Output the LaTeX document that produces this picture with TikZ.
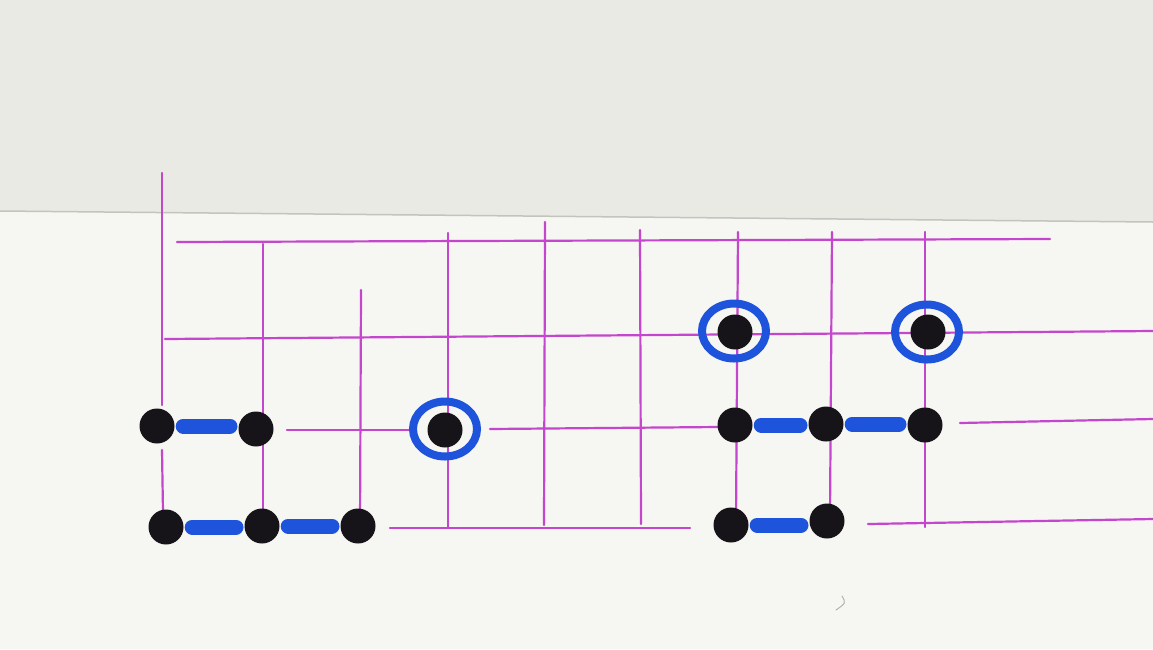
\documentclass[tikz,border=0pt]{standalone}
\usetikzlibrary{shapes.geometric}
\definecolor{paperTop}{RGB}{234,234,229}
\definecolor{paperLow}{RGB}{246,246,242}
\definecolor{edgeGray}{RGB}{196,196,190}
\definecolor{penMag}{RGB}{196,70,204}
\definecolor{penBlue}{RGB}{30,84,220}
\definecolor{inkBlack}{RGB}{22,20,24}
\tikzset{
  gridline/.style={draw=penMag, line width=2.2pt, line cap=round},
  dot/.style={circle, fill=inkBlack, minimum size=35pt, inner sep=0pt},
  ring/.style={ellipse, draw=penBlue, line width=8pt, minimum width=64pt, minimum height=55pt, inner sep=0pt},
  bar/.style={draw=penBlue, line width=15pt, line cap=round, shorten <=8.5pt, shorten >=26pt}
}
\begin{document}
\begin{tikzpicture}[x=1pt,y=-1pt]
\useasboundingbox (0,0) rectangle (1153,649);
% paper
\fill[paperLow] (0,0) rectangle (1153,649);
\fill[paperTop] (0,0) -- (1153,0) -- (1153,222) -- (0,211) -- cycle;
\draw[edgeGray, line width=1.5pt] (0,211) -- (1153,222);
% horizontal lines
\draw[gridline] (177,242) -- (1050,239);
\draw[gridline] (165,339) -- (1153,331);
\draw[gridline] (287,430) -- (410,430);
\draw[gridline] (490,429) -- (718,427);
\draw[gridline] (960,423) -- (1153,419);
\draw[gridline] (390,528) -- (690,528);
\draw[gridline] (868,524) -- (1153,519);
% vertical lines
\draw[gridline] (162,173) -- (162,405);
\draw[gridline] (162,450) -- (163,512);
\draw[gridline] (263,244) -- (263,527);
\draw[gridline] (361,290) -- (360,527);
\draw[gridline] (448,233) -- (448,527);
\draw[gridline] (545,222) -- (544,525);
\draw[gridline] (640,230) -- (641,524);
\draw[gridline] (738,232) -- (736,520);
\draw[gridline] (832,232) -- (830,515);
\draw[gridline] (925,232) -- (925,527);
% circled stones
\node[ring] (r1) at (445,429) {};
\node[ring] (r2) at (734,331) {};
\node[ring] (r3) at (927,332) {};
\node[dot] (c1) at (445,430) {};
\node[dot] (c2) at (735,332) {};
\node[dot] (c3) at (928,332) {};
% left group
\node[dot] (a1) at (157,426) {};
\node[dot] (a2) at (256,429) {};
\node[dot] (b1) at (166,527) {};
\node[dot] (b2) at (262,526) {};
\node[dot] (b3) at (358,526) {};
% right group
\node[dot] (d1) at (735,425) {};
\node[dot] (d2) at (826,424) {};
\node[dot] (d3) at (925,425) {};
\node[dot] (e1) at (731,525) {};
\node[dot] (e2) at (827,521) {};
% blue links (horizontal, as drawn)
\draw[bar] (a1) -- (a1 -| a2);
\draw[bar] (b1) -- (b1 -| b2);
\draw[bar] (b2) -- (b2 -| b3);
\draw[bar] (d1) -- (d1 -| d2);
\draw[bar] (d2) -- (d2 -| d3);
\draw[bar] (e1) -- (e1 -| e2);
% pencil mark
\draw[gray!60, line width=1pt, line cap=round] (842,596) .. controls (846,603) .. (836,610);
\end{tikzpicture}
\end{document}
